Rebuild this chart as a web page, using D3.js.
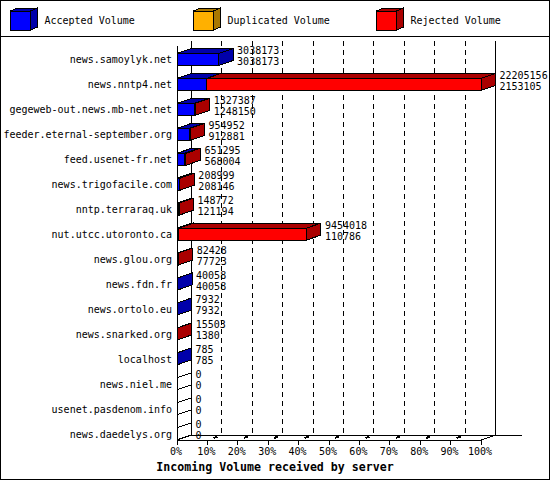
<!DOCTYPE html>
<html>
<head>
<meta charset="utf-8">
<script src="https://d3js.org/d3.v7.min.js"></script>
<style>
  body { margin: 0; background: #fff; }
  text { font-family: "DejaVu Sans Mono", "Liberation Mono", monospace; font-size: 10px; fill: #000; }
</style>
</head>
<body>
<svg id="chart" width="550" height="480"></svg>
<script>
// values
const servers = ["news.samoylyk.net", "news.nntp4.net", "gegeweb-out.news.mb-net.net",
  "feeder.eternal-september.org", "feed.usenet-fr.net", "news.trigofacile.com",
  "nntp.terraraq.uk", "nut.utcc.utoronto.ca", "news.glou.org", "news.fdn.fr",
  "news.ortolo.eu", "news.snarked.org", "localhost", "news.niel.me",
  "usenet.pasdenom.info", "news.daedelys.org"]
const totalVolume = [3038173, 22205156, 1327387, 954952, 651295, 208999, 148772,
  9454018, 82428, 40058, 7932, 15503, 785, 0, 0, 0]
const acceptedVolume = [3038173, 2153105, 1248150, 912881, 568004, 208146, 121194,
  110786, 77723, 40058, 7932, 1380, 785, 0, 0, 0]
const legendNames = ["Accepted Volume", "Duplicated Volume", "Rejected Volume"]
const percentTicks = [0, 10, 20, 30, 40, 50, 60, 70, 80, 90, 100]
const xTitle = "Incoming Volume received by server"

const colors = [
  { front: "#0000ff", dark: "#0000aa" },
  { front: "#ffb000", dark: "#aa7800" },
  { front: "#ff0000", dark: "#aa0000" }
]

// 3d depth
const dx = 14.5, dy = 5
const barH = 12
const plotTop = 46, floorY = 440

const svg = d3.select("#chart")
svg.attr("shape-rendering", "crispEdges")

const x = d3.scaleLinear().domain([0, d3.max(totalVolume)]).range([177, 481])
const xp = d3.scaleLinear().domain([0, 100]).range([177, 481])
const y = d3.scaleBand().domain(servers).range([47, 446.2])
const yc = (s) => y(s) + y.bandwidth() / 2

// frame
svg.append("rect").attr("x", 0.5).attr("y", 0.5).attr("width", 549).attr("height", 479)
  .attr("fill", "#fff").attr("stroke", "#000")
svg.append("line").attr("x1", 0).attr("x2", 550).attr("y1", 36.5).attr("y2", 36.5).attr("stroke", "#000")

// legend
const legendX = [10.5, 193.5, 376.5]
const leg = svg.selectAll(".legend").data(legendNames).join("g").attr("class", "legend")
  .attr("transform", (d, i) => `translate(${legendX[i]},11)`)
leg.append("polygon").attr("points", "0,0 7,-3 27,-3 20,0")
  .attr("fill", (d, i) => colors[i].dark).attr("stroke", "#000")
leg.append("polygon").attr("points", "20,0 27,-3 27,16 20,19")
  .attr("fill", (d, i) => colors[i].dark).attr("stroke", "#000")
leg.append("rect").attr("width", 20).attr("height", 19)
  .attr("fill", (d, i) => colors[i].front).attr("stroke", "#000")
leg.append("text").attr("x", 34).attr("y", 13).text(d => d)

// walls and grid
const x0 = x(0)
svg.append("line").attr("x1", x0 + dx).attr("x2", x0 + dx).attr("y1", plotTop - dy).attr("y2", floorY - dy).attr("stroke", "#000")
svg.append("line").attr("x1", xp(100) + dx).attr("x2", xp(100) + dx).attr("y1", plotTop - dy).attr("y2", floorY - dy).attr("stroke", "#000")
svg.selectAll(".grid").data(percentTicks.slice(1, -1)).join("line").attr("class", "grid")
  .attr("x1", d => xp(d) + dx).attr("x2", d => xp(d) + dx)
  .attr("y1", plotTop - dy).attr("y2", floorY - dy)
  .attr("stroke", "#000").attr("stroke-dasharray", "5,4")
svg.append("line").attr("x1", x0 + dx).attr("x2", 522).attr("y1", floorY - dy).attr("y2", floorY - dy).attr("stroke", "#000")
svg.append("line").attr("x1", x0).attr("x2", xp(100)).attr("y1", floorY).attr("y2", floorY).attr("stroke", "#000")
svg.append("line").attr("x1", xp(100)).attr("x2", xp(100) + dx).attr("y1", floorY).attr("y2", floorY - dy).attr("stroke", "#000")
svg.append("line").attr("x1", x0).attr("x2", x0 + dx).attr("y1", floorY).attr("y2", floorY - dy).attr("stroke", "#000")

// ticks
const ticks = svg.selectAll(".tick").data(percentTicks).join("g").attr("class", "tick")
ticks.append("line").attr("x1", d => xp(d)).attr("x2", d => xp(d)).attr("y1", floorY).attr("y2", floorY + 5).attr("stroke", "#000")
ticks.filter(d => d > 0 && d < 100).append("line")
  .attr("x1", d => xp(d) + 6).attr("x2", d => xp(d) + 10).attr("y1", floorY - 2).attr("y2", floorY - 3.5)
  .attr("stroke", "#000").attr("stroke-width", 2)
ticks.append("text").attr("x", d => xp(d) - 1).attr("y", 455).attr("text-anchor", "middle").text(d => d + "%")

// bars: accepted then rejected, each a 3d box
const segments = []
servers.forEach((s, i) => {
  const acc = acceptedVolume[i], rej = totalVolume[i] - acceptedVolume[i]
  if (totalVolume[i] === 0) {
    segments.push({ s, a: 0, b: 0, front: "#fff", dark: "#fff" })
    return
  }
  if (acc > 0) segments.push({ s, a: 0, b: acc, front: colors[0].front, dark: colors[0].dark })
  if (rej > 0) segments.push({ s, a: acc, b: acc + rej, front: colors[2].front, dark: colors[2].dark })
})

const seg = svg.selectAll(".seg").data(segments).join("g").attr("class", "seg")
seg.append("polygon").attr("points", d => {
  const xa = x(d.a), xb = x(d.b), t = yc(d.s) - barH / 2
  return [[xa, t], [xa + dx, t - dy], [xb + dx, t - dy], [xb, t]].join(" ")
}).attr("fill", d => d.dark).attr("stroke", "#000")
seg.append("polygon").attr("points", d => {
  const xb = x(d.b), t = yc(d.s) - barH / 2, b = yc(d.s) + barH / 2
  return [[xb, t], [xb + dx, t - dy], [xb + dx, b - dy], [xb, b]].join(" ")
}).attr("fill", d => d.dark).attr("stroke", "#000")
seg.append("rect")
  .attr("x", d => x(d.a)).attr("y", d => yc(d.s) - barH / 2)
  .attr("width", d => x(d.b) - x(d.a)).attr("height", barH)
  .attr("fill", d => d.front).attr("stroke", "#000")

// front axis
svg.append("line").attr("x1", x0).attr("x2", x0).attr("y1", plotTop).attr("y2", floorY).attr("stroke", "#000")

// server names
svg.selectAll(".name").data(servers).join("text").attr("class", "name")
  .attr("x", 172).attr("y", d => yc(d) + 4).attr("text-anchor", "end").text(d => d)

// value labels
const vals = svg.selectAll(".vals").data(servers).join("g").attr("class", "vals")
vals.append("text").attr("x", (d, i) => x(totalVolume[i]) + dx + 4).attr("y", d => yc(d) - 5.5)
  .text((d, i) => totalVolume[i])
vals.append("text").attr("x", (d, i) => x(totalVolume[i]) + dx + 4).attr("y", d => yc(d) + 5.5)
  .text((d, i) => acceptedVolume[i])

// axis title
svg.append("text").attr("x", 275).attr("y", 471).attr("text-anchor", "middle")
  .style("font-size", "11.6px").style("font-weight", "bold").text(xTitle)
</script>
</body>
</html>
